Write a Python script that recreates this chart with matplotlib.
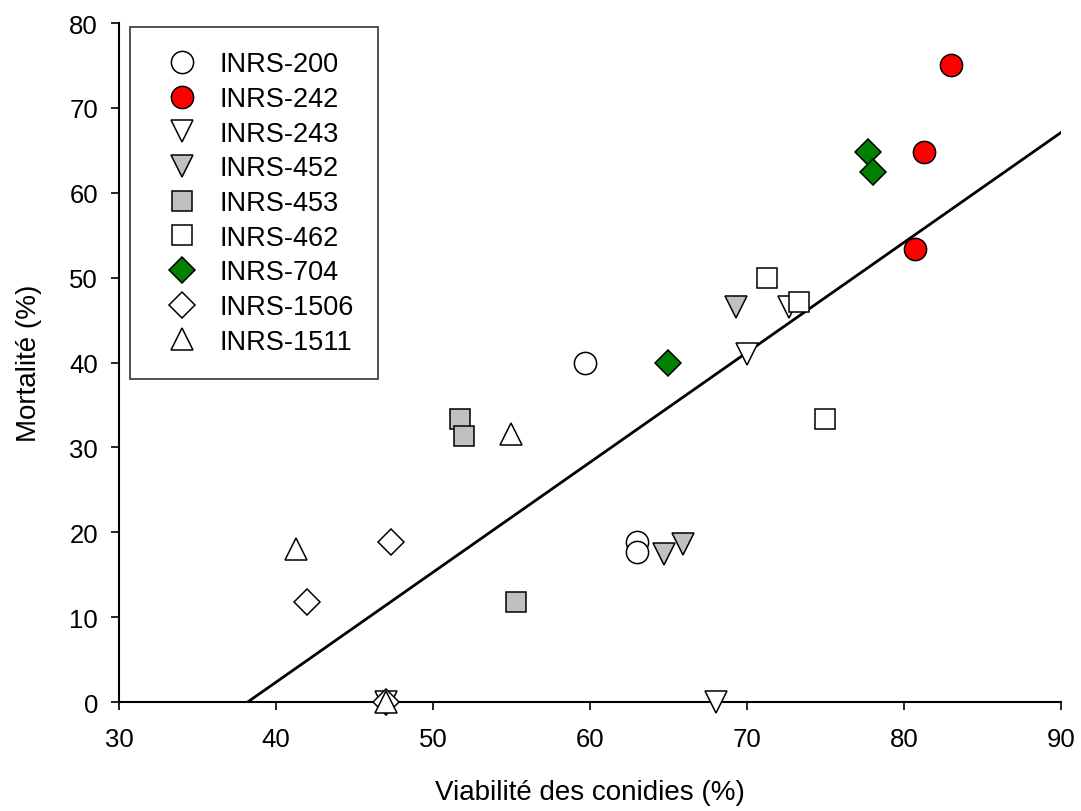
"""Mortality vs conidia viability scatter, INRS isolates, with regression line."""

import matplotlib

matplotlib.use("Agg")
import matplotlib.pyplot as plt

plt.rcParams["font.family"] = ["Liberation Sans", "DejaVu Sans"]

# values
strains = ["INRS-200", "INRS-242", "INRS-243", "INRS-452", "INRS-453",
           "INRS-462", "INRS-704", "INRS-1506", "INRS-1511"]
viability = [
    [59.7, 63.0, 63.0],          # INRS-200
    [83.0, 81.3, 80.7],          # INRS-242
    [70.0, 72.7, 68.0, 47.0],    # INRS-243
    [69.3, 64.7, 65.9],          # INRS-452
    [51.7, 52.0, 55.3],          # INRS-453
    [71.3, 73.3, 75.0],          # INRS-462
    [77.7, 78.0, 65.0],          # INRS-704
    [47.3, 42.0, 47.0],          # INRS-1506
    [41.3, 55.0, 47.0],          # INRS-1511
]
mortality = [
    [40.0, 18.8, 17.7],
    [75.0, 64.8, 53.4],
    [41.0, 46.5, 0.0, 0.0],
    [46.5, 17.4, 18.6],
    [33.4, 31.3, 11.8],
    [50.0, 47.1, 33.4],
    [64.8, 62.5, 40.0],
    [18.8, 11.8, 0.0],
    [18.0, 31.6, 0.0],
]
fit_x = [38.2, 90.0]
fit_y = [0.0, 67.1]

# marker, face colour, size (pt)
styles = [
    ("o", "white", 16),
    ("o", "#ff0000", 16),
    ("v", "white", 16),
    ("v", "#c0c0c0", 16),
    ("s", "#c0c0c0", 14.5),
    ("s", "white", 14.5),
    ("D", "#007f00", 13.5),
    ("D", "white", 13.5),
    ("^", "white", 16),
]

fig = plt.figure(figsize=(10.81, 8.12), dpi=100)
ax = fig.add_axes([0.110, 0.1342, 0.8715, 0.8362])

ax.plot(fit_x, fit_y, color="black", linewidth=2.0, zorder=2)

for name, xs, ys, (mk, fc, ms) in zip(strains, viability, mortality, styles):
    ax.plot(xs, ys, linestyle="none", marker=mk, markersize=ms,
            markerfacecolor=fc, markeredgecolor="black", markeredgewidth=1.1,
            label=name, clip_on=False, zorder=3)

ax.set_xlim(30, 90)
ax.set_ylim(0, 80)
ax.set_xticks(range(30, 91, 10))
ax.set_yticks(range(0, 81, 10))
ax.spines["top"].set_visible(False)
ax.spines["right"].set_visible(False)
for side in ("left", "bottom"):
    ax.spines[side].set_linewidth(1.5)
ax.tick_params(direction="out", length=6, width=1.2, labelsize=18.5)
ax.tick_params(axis="x", pad=12)
ax.tick_params(axis="y", pad=9)
ax.set_xlabel("Viabilité des conidies (%)", fontsize=20, labelpad=20)
ax.set_ylabel("Mortalité (%)", fontsize=20, labelpad=20)

leg = ax.legend(loc="upper left", bbox_to_anchor=(0.012, 0.994), fontsize=19.5,
                frameon=True, fancybox=False, edgecolor="black", numpoints=1,
                borderpad=0.9, labelspacing=0.32, handletextpad=0.4,
                handlelength=2.0, borderaxespad=0)
leg.get_frame().set_linewidth(1.2)

fig.savefig("out.png", dpi=100)
